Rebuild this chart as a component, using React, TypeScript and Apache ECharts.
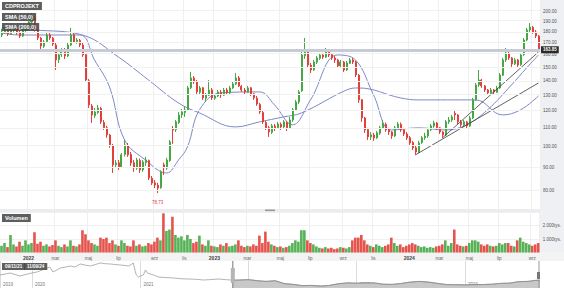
import React, { useEffect, useRef } from 'react';
import * as echarts from 'echarts';

const FONT = 'Liberation Sans, Arial, sans-serif';
const UP = '#45a845';
const DOWN = '#e2403a';

// candles: [open, close, low, high]
const candles: number[][] = [
  [176.9, 179.7, 175.1, 182.4], [179.7, 181.5, 177.8, 184.3], [181.0, 177.8, 176.0, 183.4], [178.0, 181.5, 176.9, 183.4],
  [181.0, 183.4, 179.7, 185.2], [183.0, 178.8, 177.0, 184.3], [179.0, 176.0, 174.2, 180.6], [176.0, 180.6, 175.1, 182.4],
  [181.0, 184.3, 179.7, 186.2], [184.0, 189.1, 183.0, 191.0], [189.0, 193.9, 188.0, 197.9], [193.0, 181.5, 180.0, 195.0],
  [181.0, 174.2, 172.4, 182.4], [174.0, 167.2, 162.2, 175.1], [167.0, 170.7, 165.5, 172.4], [171.0, 176.9, 170.0, 178.8],
  [177.0, 174.2, 172.4, 179.7], [174.0, 168.9, 167.2, 175.1], [168.0, 155.7, 147.9, 169.8], [156.0, 159.7, 153.3, 161.4],
  [160.0, 163.8, 158.1, 165.5], [164.0, 158.9, 156.5, 165.5], [159.0, 168.1, 158.0, 169.8], [168.0, 176.9, 167.2, 183.4],
  [177.0, 170.7, 169.8, 178.8], [171.0, 172.4, 169.0, 174.2], [172.0, 168.1, 166.3, 173.3], [168.0, 159.7, 158.1, 169.8],
  [160.0, 140.5, 139.1, 161.4], [140.0, 123.7, 121.8, 141.3], [123.0, 117.5, 112.8, 124.3], [117.0, 119.3, 115.7, 121.8],
  [119.0, 121.8, 118.0, 123.7], [121.5, 113.4, 112.2, 122.5], [113.0, 110.0, 108.8, 114.5], [110.0, 106.1, 104.5, 111.1],
  [106.0, 100.8, 99.3, 106.6], [100.5, 91.0, 87.3, 101.3], [91.0, 91.9, 89.6, 93.3], [92.0, 90.1, 88.7, 93.3],
  [90.0, 95.8, 89.6, 96.7], [96.0, 100.8, 95.0, 103.4], [100.5, 95.8, 94.8, 101.8], [96.0, 91.9, 90.5, 97.2],
  [92.0, 89.6, 87.8, 93.3], [89.5, 93.3, 88.7, 94.3], [93.0, 88.7, 87.3, 94.0], [88.7, 92.4, 87.8, 93.3],
  [92.0, 93.3, 90.5, 94.8], [93.0, 85.1, 84.2, 93.5], [85.0, 82.9, 82.1, 86.0], [83.0, 82.1, 80.8, 84.2],
  [82.0, 80.8, 78.73, 83.0], [81.0, 87.8, 80.5, 88.5], [91.0, 89.6, 86.4, 92.0], [89.5, 93.3, 88.7, 94.3],
  [93.0, 102.4, 92.4, 103.4], [109.5, 108.8, 101.3, 111.0], [109.0, 113.4, 107.7, 114.5], [113.0, 117.5, 112.2, 119.3],
  [117.5, 119.3, 115.7, 121.2], [119.0, 120.6, 116.3, 122.5], [120.5, 134.9, 119.9, 136.3], [135.0, 142.0, 134.2, 146.4],
  [142.0, 139.1, 137.7, 143.4], [139.0, 132.2, 130.8, 140.5], [132.0, 134.9, 130.8, 136.3], [135.0, 128.2, 126.9, 135.6],
  [128.0, 130.2, 125.6, 131.5], [130.0, 133.5, 129.5, 140.5], [133.5, 128.2, 126.9, 134.9], [128.0, 129.5, 126.9, 130.8],
  [129.5, 132.2, 128.8, 133.5], [132.0, 130.2, 128.2, 133.5], [130.0, 133.5, 129.5, 134.9], [133.5, 131.5, 130.2, 134.9],
  [131.5, 134.9, 130.8, 136.3], [135.0, 137.7, 134.2, 139.1], [137.7, 142.0, 137.0, 145.6], [142.0, 136.3, 135.6, 143.4],
  [136.0, 133.5, 132.2, 137.0], [133.5, 132.2, 130.8, 134.9], [132.0, 134.9, 131.5, 136.3], [135.0, 130.8, 129.5, 135.6],
  [131.0, 128.2, 126.9, 131.5], [128.0, 124.3, 123.1, 129.5], [124.0, 119.3, 118.1, 125.0], [119.0, 113.4, 112.2, 120.0],
  [113.0, 110.0, 108.8, 114.0], [110.0, 107.7, 105.0, 111.1], [107.5, 111.1, 106.6, 112.2], [111.0, 110.0, 108.2, 112.2],
  [110.0, 112.2, 109.4, 113.4], [112.0, 110.5, 108.8, 113.0], [110.5, 113.4, 109.4, 114.5], [113.0, 110.0, 108.2, 114.0],
  [110.0, 114.5, 109.4, 116.3], [114.5, 120.6, 113.4, 121.8], [120.5, 125.6, 119.9, 126.9], [125.5, 132.2, 124.3, 133.5],
  [133.0, 159.7, 132.2, 162.2], [159.0, 163.8, 156.5, 174.2], [163.0, 151.7, 150.2, 164.6], [151.5, 147.9, 145.6, 153.3],
  [148.0, 154.1, 147.2, 155.7], [154.0, 157.3, 152.5, 158.9], [157.0, 159.7, 155.7, 161.4], [159.7, 158.1, 156.5, 161.4],
  [158.0, 162.2, 157.3, 165.5], [162.0, 159.7, 158.1, 163.0], [160.0, 157.3, 155.7, 161.4], [157.3, 155.7, 153.3, 158.9],
  [155.7, 151.0, 149.4, 156.5], [151.0, 154.1, 150.2, 155.7], [154.0, 147.9, 146.4, 154.9], [148.0, 153.3, 147.2, 154.9],
  [153.0, 155.7, 152.5, 157.3], [155.7, 154.1, 152.5, 157.3], [154.0, 144.2, 142.7, 155.0], [144.0, 126.9, 125.0, 144.9],
  [127.0, 115.7, 113.4, 127.5], [115.7, 108.8, 107.2, 116.3], [109.0, 105.0, 103.4, 110.0], [105.0, 106.1, 103.4, 107.7],
  [106.0, 104.5, 102.9, 107.2], [104.5, 107.2, 103.9, 108.2], [107.0, 110.0, 106.1, 111.1], [110.0, 112.2, 109.4, 114.5],
  [112.0, 108.8, 107.7, 113.0], [109.0, 107.7, 106.1, 110.0], [107.7, 105.5, 103.9, 108.2], [105.5, 110.0, 105.0, 111.1],
  [110.0, 112.2, 109.4, 113.4], [112.0, 108.8, 107.7, 113.0], [109.0, 106.6, 105.5, 110.0], [106.6, 104.5, 103.4, 107.7],
  [104.5, 101.8, 100.8, 105.5], [102.0, 99.3, 98.2, 102.9], [99.3, 97.2, 95.8, 100.3], [97.0, 101.8, 96.7, 102.9],
  [102.0, 104.5, 101.3, 105.5], [104.5, 105.5, 103.4, 107.2], [105.5, 108.8, 104.5, 110.0], [109.0, 111.1, 108.2, 112.2],
  [111.0, 112.8, 110.0, 114.0], [112.8, 110.0, 108.8, 113.4], [110.0, 107.7, 106.6, 110.5], [107.7, 106.1, 104.5, 108.2],
  [106.0, 113.4, 105.5, 114.5], [113.4, 114.5, 112.2, 116.3], [114.5, 116.3, 113.4, 117.5], [118.5, 117.5, 114.5, 120.6],
  [117.5, 113.4, 112.2, 118.1], [113.4, 111.7, 110.5, 114.5], [111.7, 113.4, 110.5, 114.5], [113.4, 111.1, 109.4, 114.0],
  [111.0, 115.7, 110.5, 116.9], [115.7, 126.9, 115.0, 128.2], [127.0, 137.0, 126.3, 138.4], [137.0, 140.5, 135.6, 147.9],
  [140.5, 136.3, 135.0, 141.3], [136.3, 133.5, 132.2, 137.0], [133.5, 131.5, 130.2, 134.2], [131.5, 133.5, 130.8, 134.9],
  [133.5, 132.2, 130.8, 134.2], [132.0, 134.9, 131.5, 136.3], [135.0, 144.2, 134.2, 145.6], [144.0, 155.7, 143.4, 157.3],
  [155.7, 161.4, 154.1, 165.5], [161.0, 157.3, 155.7, 162.2], [157.3, 152.5, 150.2, 158.1], [152.5, 155.7, 151.7, 157.3],
  [155.7, 151.7, 150.2, 156.5], [152.0, 159.7, 151.0, 161.4], [160.0, 172.4, 159.0, 174.2], [172.4, 181.5, 171.5, 183.4],
  [181.5, 184.3, 179.7, 188.1], [184.0, 179.7, 178.0, 185.2], [179.7, 176.0, 174.2, 181.5], [176.0, 163.85, 162.5, 177.0],
];

// volume in thousands of shares
const volumes: number[] = [
  500, 700, 400, 1300, 600, 450, 800, 500, 900, 600, 700, 1500, 650, 800, 500, 600, 450, 550, 900, 500,
  400, 600, 450, 900, 500, 450, 600, 1650, 1350, 900, 700, 600, 500, 1100, 1000, 1100, 700, 900, 600, 500,
  900, 700, 500, 450, 900, 500, 600, 450, 500, 700, 600, 800, 1100, 900, 2900, 1600, 1700, 2650, 1300, 1100,
  1200, 900, 1300, 1000, 700, 800, 1250, 600, 500, 900, 500, 450, 400, 600, 500, 700, 450, 500, 600, 900,
  500, 400, 500, 450, 600, 500, 1250, 700, 1550, 800, 600, 500, 400, 450, 350, 400, 500, 700, 900, 800,
  1650, 1650, 900, 700, 600, 450, 350, 300, 400, 300, 350, 250, 300, 400, 350, 300, 400, 900, 1100, 1100,
  1300, 900, 600, 500, 400, 600, 500, 400, 500, 600, 1100, 700, 500, 600, 400, 500, 600, 700, 600, 500,
  400, 450, 350, 400, 350, 450, 500, 600, 900, 500, 700, 1700, 600, 500, 450, 500, 700, 900, 900, 800,
  600, 500, 600, 500, 450, 500, 700, 600, 700, 700, 500, 450, 900, 1100, 800, 700, 600, 500, 600, 700,
];

// moving averages: [candle index, price]
const sma50: number[][] = [
  [0, 178.8], [6, 176.9], [26, 176.9], [31, 155.7], [36, 135.6], [41, 103.4], [48, 93.3], [55, 87.3],
  [59, 93.3], [62, 99.8], [66, 120.6], [73, 131.5], [86, 132.2], [91, 123.7], [97, 111.7], [103, 126.9],
  [112, 159.7], [118, 155.7], [124, 130.2], [130, 108.8], [139, 110.0], [148, 108.8], [155, 111.7],
  [162, 120.6], [170, 137.0], [175, 149.4], [179, 159.7],
];
const sma200: number[][] = [
  [0, 183.4], [11, 181.5], [27, 176.9], [39, 158.0], [49, 140.5], [59, 124.9], [66, 118.7], [78, 110.5],
  [86, 113.4], [94, 116.3], [100, 118.7], [115, 133.5], [119, 134.9], [133, 128.2], [139, 126.9],
  [158, 126.9], [167, 117.5], [173, 120.6], [179, 129.5],
];
const trendLine1: number[][] = [[138, 95.8], [179, 138.4]];
const trendLine2: number[][] = [[147, 104.5], [179, 162.2]];

const priceTicks = [80, 90, 100, 110, 120, 130, 140, 150, 160, 170, 180, 190, 200];
const priceMin = 72.6;
const priceMax = 211.6;
const lastPrice = 163.85;
const lowPoint: [number, number] = [52, 78.73];
const volumeTicks = [1000, 2000];
const volumeMax = 3000;

const monthTicks: [number, string][] = [
  [9, '2022'], [18, 'mar'], [29, 'maj'], [39, 'lip'], [51, 'wrz'], [61, 'lis'],
  [71, '2023'], [82, 'mar'], [93, 'maj'], [103, 'lip'], [114, 'wrz'], [124, 'lis'],
  [136, '2024'], [146, 'mar'], [156, 'maj'], [166, 'lip'], [177, 'wrz'],
];

// navigator (long history)
const navHistory: [string, number][] = [
  ['2019-09-15', 267], ['2019-10-05', 285], ['2019-10-19', 300], ['2019-11-05', 275], ['2019-11-22', 250],
  ['2019-12-10', 275], ['2020-01-01', 300], ['2020-01-20', 320], ['2020-02-04', 350], ['2020-02-20', 380],
  ['2020-03-01', 400], ['2020-03-12', 317], ['2020-03-25', 350], ['2020-04-05', 383], ['2020-04-25', 400],
  ['2020-05-09', 417], ['2020-05-25', 400], ['2020-06-12', 450], ['2020-06-30', 430], ['2020-07-16', 417],
  ['2020-08-01', 440], ['2020-08-19', 467], ['2020-09-05', 455], ['2020-09-22', 450], ['2020-10-10', 440],
  ['2020-10-26', 433], ['2020-11-10', 425], ['2020-11-22', 417], ['2020-12-01', 440], ['2020-12-08', 467],
  ['2020-12-14', 340], ['2020-12-18', 267], ['2020-12-25', 233], ['2021-01-01', 250], ['2021-01-11', 267],
  ['2021-01-18', 350], ['2021-01-25', 300], ['2021-02-04', 283], ['2021-02-18', 260], ['2021-03-03', 233],
  ['2021-03-25', 225], ['2021-04-22', 217], ['2021-05-15', 205], ['2021-06-12', 200], ['2021-07-10', 195],
  ['2021-08-02', 183], ['2021-08-25', 190], ['2021-09-22', 200], ['2021-10-15', 190],
];
const navWindow: [string, number][] = [
  ['2021-11-09', 180], ['2021-12-01', 183], ['2022-01-01', 189], ['2022-02-01', 171], ['2022-03-01', 160],
  ['2022-04-01', 171], ['2022-05-01', 124], ['2022-06-01', 110], ['2022-07-01', 90], ['2022-08-01', 93],
  ['2022-09-01', 83], ['2022-10-01', 93], ['2022-11-01', 121], ['2022-12-01', 135], ['2023-01-01', 130],
  ['2023-02-01', 135], ['2023-03-01', 135], ['2023-04-01', 113], ['2023-05-01', 110], ['2023-06-01', 126],
  ['2023-07-01', 148], ['2023-08-01', 160], ['2023-09-01', 148], ['2023-10-01', 127], ['2023-11-01', 107],
  ['2023-12-01', 105], ['2024-01-01', 102], ['2024-02-01', 106], ['2024-03-01', 108], ['2024-04-01', 113],
  ['2024-05-01', 127], ['2024-06-01', 131], ['2024-07-01', 156], ['2024-08-01', 160], ['2024-09-01', 180],
  ['2024-09-11', 164],
];
const navStart = '2019-09-15';
const navEnd = '2024-09-11';
const navYearTicks = ['2019-09-15', '2020-01-01', '2021-01-01', '2022-01-01', '2023-01-01', '2024-01-01'];
const navPriceMin = 50;
const navPriceMax = 500;
const rangeStartLabel = '09/11/21';
const rangeEndLabel = '11/09/24';

const boxStyle = (text: string, size = 5.5) => ({
  text,
  fill: '#fff',
  backgroundColor: 'rgba(72,72,72,0.88)',
  padding: [1, 3, 1, 3],
  fontSize: size,
  fontWeight: 'bold',
  fontFamily: FONT,
});

export default function App() {
  const ref = useRef<HTMLDivElement>(null);
  useEffect(() => {
    const chart = echarts.init(ref.current!, null, { renderer: 'svg' });
    const ln = Math.log;
    const cats = candles.map((_, i) => 'c' + i);
    const tickLabel: Record<number, string> = {};
    monthTicks.forEach(([i, t]) => { tickLabel[i] = t; });
    const isTick = (i: number) => tickLabel[i] !== undefined;
    const candleData = candles.map(([o, c, l, h]) => [ln(o), ln(c), ln(l), ln(h)]);
    const volData = volumes.map((v, i) => ({
      value: v,
      itemStyle: { color: candles[i][1] >= candles[i][0] ? UP : DOWN },
    }));
    const toLn = (arr: number[][]) => arr.map(([i, p]) => [i, ln(p)]);
    const navAll = navHistory.concat(navWindow);
    const ts = (d: string) => new Date(d + 'T00:00:00Z').getTime();

    const option: any = {
      animation: false,
      textStyle: { fontFamily: FONT },
      grid: [
        { left: 0, top: 0, width: 540, height: 209 },
        { left: 0, top: 212, width: 540, height: 40.5 },
        { left: 0, top: 261, width: 540, height: 27 },
      ],
      xAxis: [
        {
          type: 'category', gridIndex: 0, data: cats, boundaryGap: true,
          axisLine: { show: false }, axisTick: { show: false }, axisLabel: { show: false },
          splitLine: { show: true, interval: (i: number) => isTick(i), lineStyle: { color: '#efefef' } },
        },
        {
          type: 'category', gridIndex: 1, data: cats, boundaryGap: true,
          axisLine: { show: false }, axisTick: { show: false },
          axisLabel: {
            show: true, interval: (i: number) => isTick(i), margin: 3,
            formatter: (_v: string, i: number) => {
              const t = tickLabel[i] ?? '';
              return /^\d{4}$/.test(t) ? '{y|' + t + '}' : t;
            },
            fontSize: 4.5, color: '#666',
            rich: { y: { fontSize: 5, fontWeight: 'bold', color: '#444' } },
          },
          splitLine: { show: true, interval: (i: number) => isTick(i), lineStyle: { color: '#efefef' } },
        },
        {
          type: 'value', gridIndex: 2, min: ts(navStart), max: ts(navEnd),
          axisLine: { show: false },
          axisTick: { show: true, customValues: navYearTicks.map(ts), inside: true, length: 27, lineStyle: { color: '#dcdcdc' } },
          axisLabel: {
            show: true, customValues: navYearTicks.map(ts), inside: true, margin: 1,
            formatter: (v: number) => String(new Date(v).getUTCFullYear()),
            align: 'left', padding: [0, 0, 0, 3], fontSize: 4.5, color: '#777',
          },
          splitLine: { show: false },
        },
      ],
      yAxis: [
        {
          type: 'value', gridIndex: 0, position: 'right', min: ln(priceMin), max: ln(priceMax),
          axisLine: { show: false }, axisTick: { show: false }, splitLine: { show: false },
          axisLabel: {
            customValues: priceTicks.map(ln), margin: 3,
            formatter: (v: number) => Math.exp(v).toFixed(2), fontSize: 4.5, color: '#555',
          },
        },
        {
          type: 'value', gridIndex: 1, position: 'right', min: 0, max: volumeMax, interval: 1000,
          axisLine: { show: false }, axisTick: { show: false },
          splitLine: { show: true, lineStyle: { color: '#f0f0f0' } },
          axisLabel: {
            margin: 3, fontSize: 4.5, color: '#555',
            formatter: (v: number) => (volumeTicks.includes(v) ? (v / 1000).toFixed(3) + 'tys.' : ''),
          },
        },
        { type: 'value', gridIndex: 2, min: navPriceMin, max: navPriceMax, show: false },
      ],
      series: [
        {
          type: 'line', name: 'SMA (200,0)', xAxisIndex: 0, yAxisIndex: 0, z: 1,
          data: toLn(sma200), showSymbol: false, smooth: 0.4,
          lineStyle: { color: '#7d89c8', width: 1 },
          markLine: {
            silent: true, symbol: 'none', animation: false,
            data: priceTicks.map((p) => ({ yAxis: ln(p), lineStyle: { color: '#f1f1f1', width: 1, type: 'solid' }, label: { show: false } })),
          },
        },
        {
          type: 'line', name: 'SMA (50,0)', xAxisIndex: 0, yAxisIndex: 0, z: 1,
          data: toLn(sma50), showSymbol: false, smooth: 0.4,
          lineStyle: { color: '#7d89c8', width: 1 },
        },
        {
          type: 'candlestick', name: 'CDPROJEKT', xAxisIndex: 0, yAxisIndex: 0, z: 3,
          data: candleData, barMaxWidth: 1.8,
          itemStyle: { color: UP, color0: DOWN, borderColor: UP, borderColor0: DOWN, borderWidth: 1 },
          markLine: {
            silent: true, symbol: 'none', animation: false,
            data: [{
              yAxis: ln(lastPrice),
              lineStyle: { color: '#c6cbd5', width: 3, type: 'solid' },
              label: {
                show: true, position: 'end', formatter: lastPrice.toFixed(2), distance: 1,
                backgroundColor: '#2a2a2a', color: '#fff', fontSize: 4.5, fontWeight: 'bold', padding: [1, 2, 1, 2],
              },
            }],
          },
          markPoint: {
            silent: true, animation: false,
            data: [{
              coord: [cats[lowPoint[0]], ln(lowPoint[1])], symbol: 'rect', symbolSize: 1,
              itemStyle: { color: 'rgba(0,0,0,0)' },
              label: { show: true, position: 'bottom', distance: 6, formatter: lowPoint[1].toFixed(2), color: DOWN, fontSize: 4.5 },
            }],
          },
        },
        {
          type: 'line', xAxisIndex: 0, yAxisIndex: 0, z: 4, data: toLn(trendLine1), showSymbol: false,
          lineStyle: { color: '#3a3a3a', width: 0.8 },
        },
        {
          type: 'line', xAxisIndex: 0, yAxisIndex: 0, z: 4, data: toLn(trendLine2), showSymbol: false,
          lineStyle: { color: '#3a3a3a', width: 0.8 },
        },
        {
          type: 'bar', name: 'Volumen', xAxisIndex: 1, yAxisIndex: 1, data: volData, barWidth: 2.6,
          itemStyle: { opacity: 0.9 },
        },
        {
          type: 'line', xAxisIndex: 2, yAxisIndex: 2, data: navAll.map(([d, p]) => [ts(d), p]),
          showSymbol: false, lineStyle: { color: '#a0a0a0', width: 0.8 },
        },
        {
          type: 'line', xAxisIndex: 2, yAxisIndex: 2, data: navWindow.map(([d, p]) => [ts(d), p]),
          showSymbol: false, lineStyle: { color: '#8c8c8c', width: 0.8 },
          areaStyle: { color: '#c8c8c8', opacity: 1, origin: 'start' },
        },
      ],
    };
    chart.setOption(option);

    const xs = chart.convertToPixel({ xAxisIndex: 2 }, ts(navWindow[0][0])) as number;
    const xe = chart.convertToPixel({ xAxisIndex: 2 }, ts(navWindow[navWindow.length - 1][0])) as number;

    chart.setOption({
      graphic: [
        { type: 'rect', z: -1, silent: true, shape: { x: 540, y: 0, width: 24, height: 252.5 }, style: { fill: '#eef0f3' } },
        { type: 'rect', z: -1, silent: true, shape: { x: 0, y: 252.5, width: 564, height: 8.5 }, style: { fill: '#f3f3f3' } },
        { type: 'rect', z: -1, silent: true, shape: { x: 0, y: 209, width: 540, height: 3 }, style: { fill: '#eaecf0' } },
        { type: 'rect', silent: true, shape: { x: 265, y: 209.5, width: 10, height: 1.6 }, style: { fill: '#9a9a9a' } },
        { type: 'text', x: 2, y: 2, z: 10, style: boxStyle('CDPROJEKT') },
        { type: 'text', x: 2, y: 13, z: 10, style: boxStyle('SMA (50,0)') },
        { type: 'text', x: 2, y: 23, z: 10, style: boxStyle('SMA (200,0)') },
        { type: 'text', x: 2, y: 214, z: 10, style: boxStyle('Volumen') },
        { type: 'text', x: 2, y: 263, z: 10, style: boxStyle(rangeStartLabel, 4.5) },
        { type: 'text', x: 24, y: 263, z: 10, style: boxStyle(rangeEndLabel, 4.5) },
        { type: 'line', z: 10, silent: true, shape: { x1: xs, y1: 261, x2: xs, y2: 288 }, style: { stroke: '#777', lineWidth: 1 } },
        { type: 'rect', z: 10, silent: true, shape: { x: xs - 2, y: 268, width: 4, height: 15 }, style: { fill: '#b5b5b5' } },
        { type: 'line', z: 10, silent: true, shape: { x1: xe - 1, y1: 261, x2: xe - 1, y2: 288 }, style: { stroke: '#999', lineWidth: 1 } },
        { type: 'rect', z: 10, silent: true, shape: { x: xe - 3, y: 272, width: 3, height: 7 }, style: { fill: '#777' } },
      ],
    });
    return () => chart.dispose();
  }, []);
  return <div ref={ref} style={{ position: 'fixed', left: 0, top: 0, width: 564, height: 288, background: '#fff' }} />;
}
